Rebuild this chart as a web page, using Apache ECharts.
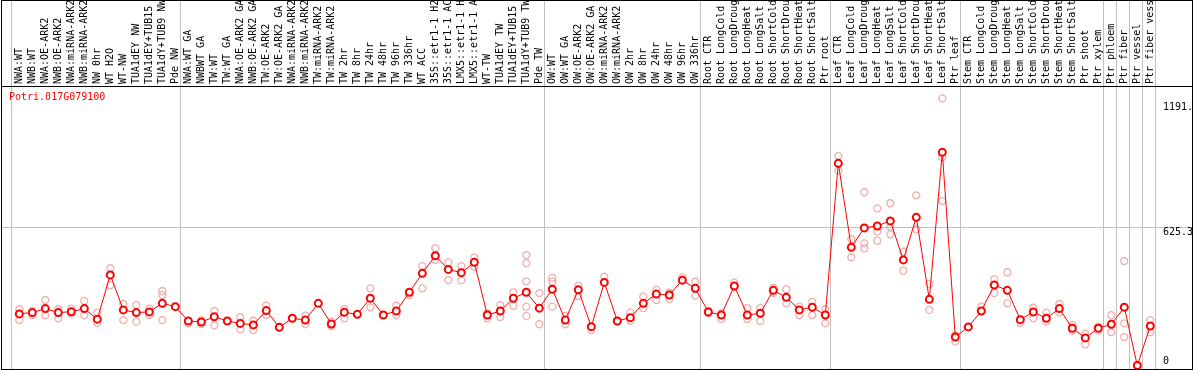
<!DOCTYPE html>
<html>
<head>
<meta charset="utf-8">
<script src="https://cdn.jsdelivr.net/npm/echarts@6/dist/echarts.min.js"></script>
<style>
html, body { margin: 0; padding: 0; background: #fff; }
#main { position: absolute; left: 0; top: 0; width: 1194px; height: 370px; }
#frame { position: absolute; left: 1px; top: 0; width: 1192px; height: 370px; box-sizing: border-box; border: 1px solid #000; pointer-events: none; }
</style>
</head>
<body>
<div id="main"></div>
<div id="frame"></div>
<script>
var categories = [
    'NWA:WT', 'NWB:WT', 'NWA:OE-ARK2', 'NWB:OE-ARK2', 'NWA:miRNA-ARK2', 'NWB:miRNA-ARK2',
    'NW 0hr', 'WT H2O', 'WT-NW', 'TUA1dEY NW', 'TUA1dEY+TUB15', 'TUA1dY+TUB9 NW', 'Pde NW',
    'NWA:WT GA', 'NWBWT GA', 'TW:WT', 'TW:WT GA', 'NWA:OE-ARK2 GA', 'NWB:OE-ARK2 GA',
    'TW:OE-ARK2', 'TW:OE-ARK2 GA', 'NWA:miRNA-ARK2', 'NWB:miRNA-ARK2', 'TW:miRNA-ARK2',
    'TW:miRNA-ARK2', 'TW 2hr', 'TW 8hr', 'TW 24hr', 'TW 48hr', 'TW 96hr', 'TW 336hr', 'WT ACC',
    '35S::etr1-1 H2O', '35S::etr1-1 ACC', 'LMX5::etr1-1 H2O', 'LMX5::etr1-1 ACC', 'WT-TW',
    'TUA1dEY TW', 'TUA1dEY+TUB15', 'TUA1dY+TUB9 TW', 'Pde TW',
    'OW:WT', 'OW:WT GA', 'OW:OE-ARK2', 'OW:OE-ARK2 GA', 'OW:miRNA-ARK2', 'OW:miRNA-ARK2',
    'OW 2hr', 'OW 8hr', 'OW 24hr', 'OW 48hr', 'OW 96hr', 'OW 336hr',
    'Root CTR', 'Root LongCold', 'Root LongDrought', 'Root LongHeat', 'Root LongSalt',
    'Root ShortCold', 'Root ShortDrought', 'Root ShortHeat', 'Root ShortSalt', 'Ptr root',
    'Leaf CTR', 'Leaf LongCold', 'Leaf LongDrought', 'Leaf LongHeat', 'Leaf LongSalt',
    'Leaf ShortCold', 'Leaf ShortDrought', 'Leaf ShortHeat', 'Leaf ShortSalt', 'Ptr leaf',
    'Stem CTR', 'Stem LongCold', 'Stem LongDrought', 'Stem LongHeat', 'Stem LongSalt',
    'Stem ShortCold', 'Stem ShortDrought', 'Stem ShortHeat', 'Stem ShortSalt', 'Ptr shoot',
    'Ptr xylem', 'Ptr phloem', 'Ptr fiber', 'Ptr vessel', 'Ptr fiber vessel'
];

// mean expression per sample (red line)
var means = [
    234, 240, 258, 240, 244, 258, 210, 411, 252, 240, 243, 282, 267,
    202, 197, 221, 202, 191, 184, 249, 173, 214, 206, 282, 188, 241, 232, 305, 229, 247,
    332, 418, 498, 436, 421, 468, 229, 247, 305, 332, 260,
    346, 206, 343, 176, 377, 202, 217, 282, 324, 320, 387, 350,
    243, 229, 361, 229, 237, 341, 309, 252, 264, 229,
    917, 536, 624, 633, 656, 479, 672, 300, 967, 129,
    175, 247, 365, 341, 208, 243, 214, 258, 169, 125, 169,
    187, 264, 0, 179
];

// individual replicates per sample (pink circles)
var replicates = [
    [255, 206], [247, 229], [297, 228], [255, 214], [258, 234], [293, 228], [240, 194],
    [441, 365], [279, 206], [274, 199], [258, 229], [338, 320, 206], [],
    [191], [206, 188], [247, 182], [], [219, 164], [203, 161], [271, 229], [], [],
    [226, 188], [], [199, 179], [256, 214], [], [350, 264], [], [271, 229],
    [320], [451, 350], [532, 479], [468, 387], [451, 387], [489, 448], [237, 214],
    [274, 220], [332, 271], [501, 464, 382, 267, 225], [328, 187],
    [398, 380, 267], [225, 187], [362, 315], [161], [403], [], [240, 203], [312, 260],
    [343, 297], [330, 302], [400], [380, 317],
    [249, 237], [237, 211], [376, 355], [260, 211], [260, 202], [353, 330], [346, 282],
    [267, 229], [289, 228], [255, 191],
    [950, 884], [573, 491], [786, 554, 532], [713, 607, 566], [736, 630, 595], [516, 430],
    [772, 618], [370, 252], [1212, 945, 746], [138, 108],
    [], [267], [391, 328], [423, 282], [194], [262, 214], [240, 199], [279, 240],
    [184, 158], [143, 96], [176, 158],
    [228, 151], [474, 191, 129], [], [206, 151]
];

// sample index where each tissue group starts (grey separators)
var groupBreaks = [0, 13, 41, 53, 63, 73, 84, 85, 86, 87, 88];

var yTicks = [0, 625.3, 1191];
var yTickLabels = ['0', '625.3', '1191.'];

var chart = echarts.init(document.getElementById('main'));

var meanData = means.map(function (v, i) { return [i, v]; });
var repData = [];
for (var i = 0; i < replicates.length; i++) {
    for (var j = 0; j < replicates[i].length; j++) {
        repData.push([i, replicates[i][j]]);
    }
}
var breakTicks = groupBreaks.map(function (k) { return k - 0.62; });
var labelTicks = categories.map(function (c, i) { return i; });

var option = {
    animation: false,
    title: {
        text: 'Potri.017G079100',
        left: 9,
        top: 92,
        padding: 0,
        textStyle: { color: '#ff0000', fontFamily: 'DejaVu Sans Mono', fontSize: 10, fontWeight: 'normal' }
    },
    grid: { left: 2, right: 2, top: 86, bottom: 1, outerBoundsMode: 'none', containLabel: false },
    xAxis: {
        type: 'value',
        position: 'top',
        min: -1.331,
        max: 90.207,
        axisLine: { show: true, onZero: false, lineStyle: { color: '#000', width: 1 } },
        axisTick: { show: true, customValues: breakTicks, length: 86, lineStyle: { color: '#c0c0c0' } },
        splitLine: { show: true, lineStyle: { color: '#c0c0c0' } },
        axisLabel: {
            customValues: labelTicks,
            rotate: -90,
            align: 'left',
            verticalAlign: 'middle',
            margin: 2,
            color: '#000',
            fontFamily: 'DejaVu Sans Mono',
            fontSize: 10,
            formatter: function (v) { return categories[Math.round(v)]; }
        }
    },
    yAxis: {
        type: 'value',
        position: 'right',
        min: -16,
        max: 1268,
        axisLine: { show: false, onZero: false },
        axisTick: { show: false, customValues: [625.3] },
        splitLine: { show: true, lineStyle: { color: '#c0c0c0' } },
        axisLabel: {
            customValues: yTicks,
            inside: true,
            margin: 29,
            align: 'left',
            color: '#000',
            fontFamily: 'DejaVu Sans Mono',
            fontSize: 10,
            formatter: function (v) {
                var s = yTickLabels[yTicks.indexOf(v)];
                return v === 0 ? '{b|' + s + '}' : '{t|' + s + '}';
            },
            rich: {
                b: { fontFamily: 'DejaVu Sans Mono', fontSize: 10, padding: [0, 0, 8, 0] },
                t: { fontFamily: 'DejaVu Sans Mono', fontSize: 10, padding: [9, 0, 0, 0] }
            }
        }
    },
    series: [
        {
            name: 'replicates',
            type: 'scatter',
            data: repData,
            symbol: 'circle',
            symbolSize: 7,
            itemStyle: { color: 'rgba(255,255,255,0)', borderColor: '#f09a9a', borderWidth: 1.3 },
            z: 2
        },
        {
            name: 'mean',
            type: 'line',
            data: meanData,
            symbol: 'emptyCircle',
            symbolSize: 7,
            lineStyle: { color: '#ff0000', width: 1 },
            itemStyle: { color: '#ff0000', borderWidth: 1.5 },
            z: 3
        }
    ]
};
chart.setOption(option);
</script>
</body>
</html>
